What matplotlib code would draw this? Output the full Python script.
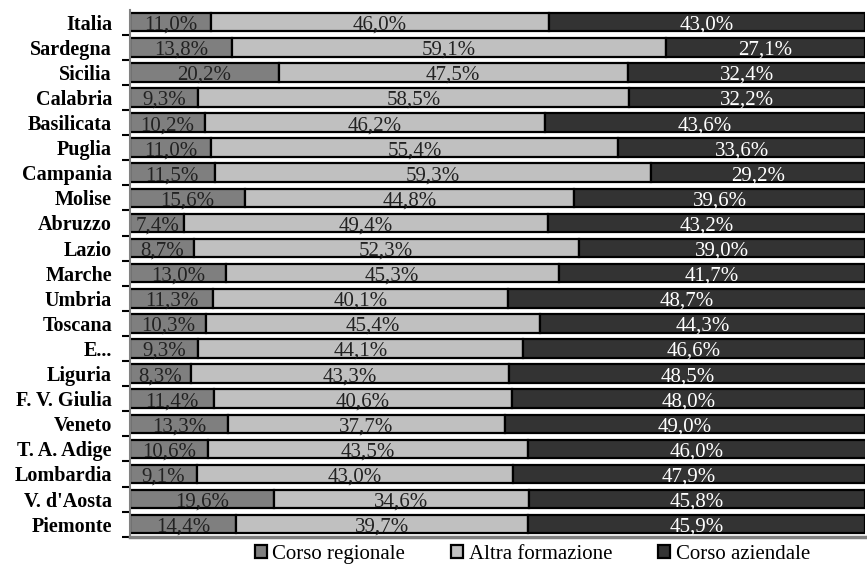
import numpy as np
import matplotlib.pyplot as plt

regioni = ['Italia', 'Sardegna', 'Sicilia', 'Calabria', 'Basilicata', 'Puglia',
           'Campania', 'Molise', 'Abruzzo', 'Lazio', 'Marche', 'Umbria', 'Toscana',
           'E...', 'Liguria', 'F. V. Giulia', 'Veneto', 'T. A. Adige', 'Lombardia',
           "V. d'Aosta", 'Piemonte']
corso_regionale = [11.0, 13.8, 20.2, 9.3, 10.2, 11.0, 11.5, 15.6, 7.4, 8.7, 13.0,
                   11.3, 10.3, 9.3, 8.3, 11.4, 13.3, 10.6, 9.1, 19.6, 14.4]
altra_formazione = [46.0, 59.1, 47.5, 58.5, 46.2, 55.4, 59.3, 44.8, 49.4, 52.3, 45.3,
                    40.1, 45.4, 44.1, 43.3, 40.6, 37.7, 43.5, 43.0, 34.6, 39.7]
corso_aziendale = [43.0, 27.1, 32.4, 32.2, 43.6, 33.6, 29.2, 39.6, 43.2, 39.0, 41.7,
                   48.7, 44.3, 46.6, 48.5, 48.0, 49.0, 46.0, 47.9, 45.8, 45.9]
serie = ['Corso regionale', 'Altra formazione', 'Corso aziendale']

# colori
colori = ['#7f7f7f', '#c0c0c0', '#333333']
col_testo = ['#222222', '#222222', 'white']

plt.rcParams['font.family'] = ['Liberation Serif', 'DejaVu Serif']

fig = plt.figure(figsize=(8.67, 5.65), dpi=100)
ax = fig.add_axes([0.150, 0.050, 0.848, 0.933])

y = np.arange(len(regioni))
left = np.zeros(len(regioni))
for k, valori in enumerate([corso_regionale, altra_formazione, corso_aziendale]):
    valori = np.array(valori)
    ax.barh(y, valori, left=left, height=0.74, color=colori[k],
            edgecolor='black', linewidth=1.6, label=serie[k])
    for i, v in enumerate(valori):
        testo = f'{v:.1f}%'.replace('.', ',')
        ax.text(left[i] + v / 2, y[i] + 0.12, testo, ha='center', va='center',
                fontsize=15, color=col_testo[k])
    left += valori

ax.set_xlim(0, 100)
ax.set_ylim(len(regioni) - 0.5, -0.5)
ax.set_xticks([])
ax.set_yticks(y)
ax.set_yticklabels(regioni, fontsize=14.5, fontweight='bold')
ax.tick_params(axis='y', which='major', length=0, pad=13)
ax.set_yticks(np.arange(len(regioni)) + 0.5, minor=True)
ax.tick_params(axis='y', which='minor', length=6, width=1.5, color='black')

for s in ['top', 'right']:
    ax.spines[s].set_visible(False)
ax.spines['left'].set_color('#808080')
ax.spines['left'].set_linewidth(1.5)
ax.spines['bottom'].set_color('#808080')
ax.spines['bottom'].set_linewidth(2.5)

ax.legend(loc='center', bbox_to_anchor=(0.547, -0.033), ncol=3, frameon=False,
          fontsize=15, handlelength=0.6, handleheight=0.6, handletextpad=0.25,
          columnspacing=2.2, borderpad=0)

fig.savefig('out.png', dpi=100)
